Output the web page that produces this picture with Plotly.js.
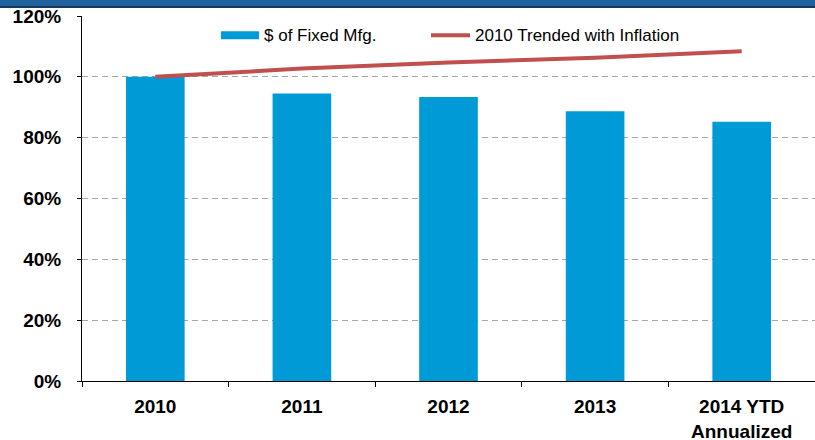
<!DOCTYPE html>
<html><head><meta charset="utf-8">
<script src="https://cdn.plot.ly/plotly-3.0.1.min.js"></script>
<style>html,body{margin:0;padding:0;background:#fff}#c{width:815px;height:440px}</style>
</head><body><div id="c"></div>
<script>
var categories = ["2010", "2011", "2012", "2013", "2014 YTD<br>Annualized"];
var fixedMfg = [100, 94.5, 93.4, 88.7, 85.2];
var trendInflation = [100, 102.7, 104.7, 106.3, 108.4];
var yTickVals = [0, 20, 40, 60, 80, 100, 120];
var yTickText = ["0%", "20%", "40%", "60%", "80%", "100%", "120%"];
var seriesNames = ["$ of Fixed Mfg.", "2010 Trended with Inflation"];

var barColor = "#009bd6", lineColor = "#c0504d";
var font = "Liberation Sans, Arial, sans-serif";

var data = [
  {type: "bar", x: categories, y: fixedMfg, name: seriesNames[0], marker: {color: barColor}, width: 0.4, showlegend: false},
  {type: "scatter", mode: "lines", x: categories, y: trendInflation, name: seriesNames[1], line: {color: lineColor, width: 4}, showlegend: false}
];

var py = function (px) { return (381.5 - px) / 366; };
var pxX = function (px) { return (px - 82) / 733; };

var layout = {
  width: 815, height: 440,
  margin: {l: 82, r: 0, t: 15.5, b: 58.5},
  paper_bgcolor: "#fff", plot_bgcolor: "#fff",
  showlegend: false,
  xaxis: {
    type: "category", showgrid: false, showline: true, linecolor: "#000", linewidth: 1,
    ticks: "outside", tickson: "boundaries", ticklen: 5, tickcolor: "#000",
    tickfont: {family: font, size: 19, color: "#000", weight: "bold"},
    ticklabelstandoff: 8
  },
  yaxis: {
    range: [0, 120], tickvals: yTickVals, ticktext: yTickText,
    showgrid: true, gridcolor: "#a6a6a6", griddash: "6px,4px", gridwidth: 1.3,
    showline: true, linecolor: "#000", linewidth: 1, zeroline: false,
    ticks: "outside", ticklen: 4, tickcolor: "#000",
    tickfont: {family: font, size: 19, color: "#000", weight: "bold"},
    ticklabelstandoff: 12
  },
  shapes: [
    {type: "rect", xref: "paper", yref: "paper", x0: -0.2, x1: 1.1, y0: py(6), y1: py(-5), fillcolor: "#20619e", line: {width: 0}, layer: "above"},
    {type: "line", xref: "paper", yref: "paper", x0: -0.2, x1: 1.1, y0: py(6.5), y1: py(6.5), line: {color: "#15395f", width: 2}, layer: "above"},
    {type: "rect", xref: "paper", yref: "paper", x0: pxX(221), x1: pxX(259), y0: py(38.7), y1: py(30.7), fillcolor: barColor, line: {width: 0}},
    {type: "line", xref: "paper", yref: "paper", x0: pxX(431), x1: pxX(470), y0: py(34.7), y1: py(34.7), line: {color: lineColor, width: 4}}
  ],
  annotations: [
    {xref: "paper", yref: "paper", x: pxX(262), y: py(35), xanchor: "left", yanchor: "middle", showarrow: false, text: seriesNames[0], font: {family: font, size: 17, color: "#000"}},
    {xref: "paper", yref: "paper", x: pxX(473), y: py(35), xanchor: "left", yanchor: "middle", showarrow: false, text: seriesNames[1], font: {family: font, size: 17, color: "#000"}}
  ]
};

Plotly.newPlot("c", data, layout, {displayModeBar: false, staticPlot: true});
</script>
</body></html>
